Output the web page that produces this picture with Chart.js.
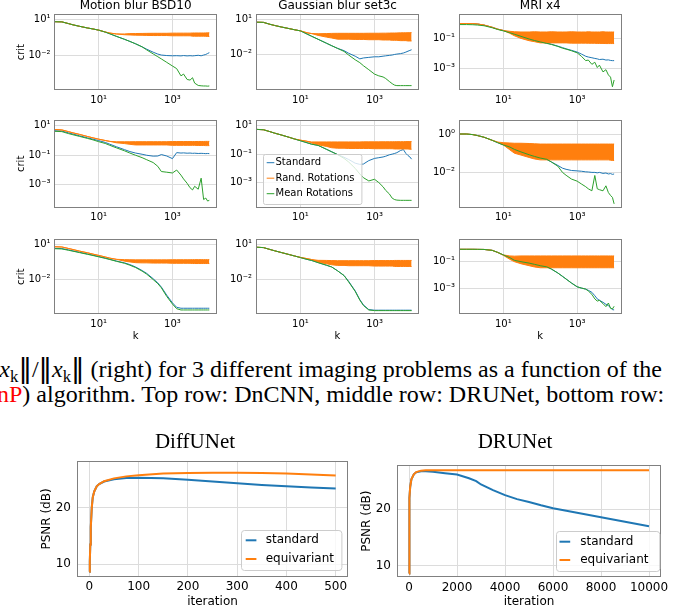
<!DOCTYPE html>
<html>
<head>
<meta charset="utf-8">
<script src="https://cdn.jsdelivr.net/npm/chart.js@4.4.1/dist/chart.umd.min.js"></script>
<style>
html, body { margin:0; padding:0; background:#fff; }
body { width:674px; height:611px; overflow:hidden; position:relative; }
canvas { position:absolute; }
.cap { position:absolute; font-family:'Liberation Serif','Times New Roman',serif; font-size:24px; line-height:24px; white-space:nowrap; color:#000; }
.cap sub { font-size:70%; line-height:0; vertical-align:baseline; position:relative; top:0.3em; }
.cap .dv { font-family:'DejaVu Sans',sans-serif; font-size:27px; line-height:0; }
</style>
</head>
<body>
<div class="cap" id="cap1" style="top:357px; right:12px;"><i>x</i><sub>k</sub><span class="dv">‖</span>/<span class="dv">‖</span><i>x</i><sub>k</sub><span class="dv">‖</span> (right) for 3 different imaging problems as a function of the</div>
<div class="cap" id="cap2" style="top:382px; left:-3px;"><span style="color:#ff0000">nP</span>) algorithm. Top row: DnCNN, middle row: DRUNet, bottom row:</div>
<script>
// ---------------- DATA ----------------
const K = [0.63, 1, 1.5, 2, 3, 5, 7, 10, 15, 20, 30, 50, 70, 100, 150, 200, 300, 400, 500, 700, 1000, 1300, 1700, 2000, 2500, 3000, 3500, 4000, 5000, 6000, 7000, 8000, 9000, 10000];

const TITLES_TOP = ['Motion blur BSD10', 'Gaussian blur set3c', 'MRI x4'];
const LEGEND_TOP = ['Standard', 'Rand. Rotations', 'Mean Rotations'];
const X_TICKS = [10, 1000];

// Row 1: DnCNN
const MB_DNCNN_STD = [6.0, 5.8, 4.2, 3.3, 2.5, 1.8, 1.5, 1.2, 0.83, 0.6, 0.37, 0.21, 0.14, 0.089, 0.05, 0.032, 0.018, 0.0126, 0.0105, 0.0095, 0.0091, 0.0093, 0.0089, 0.0095, 0.0089, 0.0093, 0.0089, 0.0093, 0.01, 0.0091, 0.0105, 0.0117, 0.014, 0.0166];
const MB_DNCNN_MEAN = [6.0, 5.8, 4.2, 3.3, 2.5, 1.8, 1.5, 1.2, 0.83, 0.6, 0.37, 0.21, 0.14, 0.089, 0.05, 0.028, 0.013, 0.0076, 0.005, 0.0026, 0.0013, 7.9e-4, 2.0e-4, 2.8e-4, 1.0e-4, 8.9e-5, 1.4e-4, 5.0e-5, 3.2e-5, 3.0e-5, 2.9e-5, 2.9e-5, 2.8e-5, 2.9e-5];
const MB_DNCNN_ROT_HI = [6.0, 5.8, 4.2, 3.3, 2.5, 1.8, 1.5, 1.2, 0.85, 0.69, 0.58, 0.58, 0.62, 0.63, 0.64, 0.65, 0.66, 0.66, 0.66, 0.66, 0.68, 0.68, 0.68, 0.68, 0.68, 0.68, 0.7, 0.7, 0.7, 0.7, 0.7, 0.71, 0.72, 0.72];
const MB_DNCNN_ROT_LO = [6.0, 5.8, 4.2, 3.3, 2.5, 1.8, 1.5, 1.2, 0.85, 0.69, 0.58, 0.5, 0.48, 0.46, 0.45, 0.44, 0.43, 0.43, 0.43, 0.43, 0.41, 0.41, 0.41, 0.41, 0.41, 0.41, 0.38, 0.38, 0.38, 0.38, 0.38, 0.37, 0.36, 0.36];
const Y_TICKS_MB_DNCNN = [10, 0.01];

const GB_DNCNN_STD = [5.6, 5.4, 3.7, 2.95, 2.2, 1.58, 1.26, 1.02, 0.55, 0.355, 0.195, 0.091, 0.055, 0.033, 0.021, 0.0126, 0.0071, 0.0042, 0.005, 0.0056, 0.0063, 0.0063, 0.0071, 0.0076, 0.0083, 0.0089, 0.01, 0.0107, 0.0117, 0.0132, 0.0158, 0.019, 0.022, 0.025];
const GB_DNCNN_MEAN = [5.6, 5.4, 3.7, 2.95, 2.2, 1.58, 1.26, 1.02, 0.55, 0.355, 0.195, 0.091, 0.055, 0.033, 0.018, 0.0089, 0.0035, 0.002, 0.0011, 5.0e-4, 2.1e-4, 1.5e-4, 1.2e-4, 8.9e-5, 5.0e-5, 3.2e-5, 2.4e-5, 2.2e-5, 2.2e-5, 2.2e-5, 2.2e-5, 2.2e-5, 2.2e-5, 2.2e-5];
const GB_DNCNN_ROT_HI = [5.6, 5.4, 3.7, 2.95, 2.2, 1.58, 1.26, 1.02, 0.7, 0.6, 0.58, 0.6, 0.62, 0.63, 0.63, 0.63, 0.63, 0.63, 0.63, 0.64, 0.64, 0.64, 0.65, 0.65, 0.66, 0.67, 0.67, 0.68, 0.69, 0.7, 0.7, 0.71, 0.72, 0.72];
const GB_DNCNN_ROT_LO = [5.6, 5.4, 3.7, 2.95, 2.2, 1.58, 1.26, 1.02, 0.7, 0.6, 0.42, 0.3, 0.25, 0.2, 0.2, 0.2, 0.19, 0.19, 0.19, 0.18, 0.18, 0.18, 0.17, 0.17, 0.17, 0.16, 0.16, 0.16, 0.15, 0.15, 0.15, 0.14, 0.14, 0.14];
const Y_TICKS_GB_DNCNN = [10, 0.01];

const MRI_DNCNN_STD = [1.0, 1.0, 0.98, 0.93, 0.79, 0.56, 0.42, 0.34, 0.25, 0.2, 0.145, 0.095, 0.076, 0.06, 0.048, 0.041, 0.03, 0.024, 0.02, 0.0158, 0.012, 0.0089, 0.0063, 0.0056, 0.005, 0.0045, 0.0042, 0.0038, 0.004, 0.0035, 0.0036, 0.0033, 0.0032, 0.0032];
const MRI_DNCNN_MEAN = [0.85, 0.85, 0.83, 0.79, 0.71, 0.52, 0.4, 0.32, 0.24, 0.19, 0.138, 0.091, 0.072, 0.058, 0.046, 0.039, 0.029, 0.022, 0.019, 0.0148, 0.0107, 0.0063, 0.0032, 0.0035, 0.0018, 0.0025, 0.0011, 0.0016, 5.6e-4, 7.9e-4, 3.5e-4, 2.5e-4, 5.6e-5, 1.6e-4];
const MRI_DNCNN_ROT_HI = [1.0, 1.0, 0.98, 0.93, 0.79, 0.56, 0.42, 0.34, 0.3, 0.28, 0.27, 0.27, 0.28, 0.27, 0.27, 0.28, 0.27, 0.27, 0.27, 0.28, 0.27, 0.27, 0.27, 0.28, 0.27, 0.27, 0.27, 0.27, 0.28, 0.27, 0.27, 0.27, 0.27, 0.27];
const MRI_DNCNN_ROT_LO = [1.0, 1.0, 0.98, 0.93, 0.79, 0.56, 0.42, 0.34, 0.22, 0.15, 0.1, 0.07, 0.06, 0.05, 0.05, 0.05, 0.05, 0.05, 0.05, 0.048, 0.048, 0.048, 0.048, 0.047, 0.047, 0.047, 0.046, 0.046, 0.046, 0.045, 0.045, 0.045, 0.045, 0.045];
const Y_TICKS_MRI_DNCNN = [0.1, 0.001];

// Row 2: DRUNet
const MB_DRUNET_STD = [4.6, 4.4, 3.3, 2.75, 2.1, 1.5, 1.23, 0.98, 0.74, 0.56, 0.38, 0.24, 0.178, 0.141, 0.117, 0.1, 0.087, 0.089, 0.112, 0.089, 0.059, 0.151, 0.141, 0.145, 0.138, 0.141, 0.135, 0.138, 0.132, 0.135, 0.132, 0.129, 0.132, 0.129];
const MB_DRUNET_MEAN = [4.2, 4.0, 2.95, 2.45, 1.9, 1.38, 1.1, 0.83, 0.63, 0.47, 0.32, 0.2, 0.141, 0.1, 0.069, 0.05, 0.032, 0.0178, 0.0079, 0.0071, 0.0063, 0.01, 0.0045, 0.0025, 0.00126, 6.3e-4, 4.5e-4, 7.9e-4, 5.0e-4, 0.0028, 1.0e-4, 1.26e-4, 7.9e-5, 8.9e-5];
const MB_DRUNET_ROT_HI = [5.6, 5.2, 4.0, 3.3, 2.6, 1.86, 1.51, 1.23, 1.0, 0.87, 0.82, 0.82, 0.82, 0.83, 0.83, 0.83, 0.83, 0.83, 0.83, 0.83, 0.85, 0.85, 0.85, 0.85, 0.85, 0.85, 0.85, 0.85, 0.86, 0.86, 0.86, 0.87, 0.87, 0.87];
const MB_DRUNET_ROT_LO = [5.6, 5.2, 4.0, 3.3, 2.6, 1.86, 1.51, 1.23, 1.0, 0.87, 0.7, 0.62, 0.55, 0.5, 0.5, 0.5, 0.5, 0.5, 0.5, 0.5, 0.47, 0.47, 0.47, 0.47, 0.47, 0.47, 0.47, 0.47, 0.46, 0.46, 0.46, 0.45, 0.45, 0.45];
const Y_TICKS_MB_DRUNET = [10, 0.1, 0.001];

const GB_DRUNET_STD = [5.5, 5.2, 3.8, 3.0, 2.24, 1.51, 1.15, 0.87, 0.63, 0.5, 0.41, 0.22, 0.145, 0.093, 0.06, 0.042, 0.023, 0.019, 0.02, 0.035, 0.05, 0.056, 0.063, 0.071, 0.089, 0.1, 0.112, 0.126, 0.178, 0.21, 0.112, 0.079, 0.063, 0.044];
const GB_DRUNET_MEAN = [5.5, 5.2, 3.8, 3.0, 2.24, 1.51, 1.15, 0.87, 0.63, 0.5, 0.41, 0.22, 0.145, 0.093, 0.05, 0.028, 0.01, 0.004, 0.0022, 0.0013, 0.0017, 0.001, 5.0e-4, 2.8e-4, 1.6e-4, 7.9e-5, 6.3e-5, 5.8e-5, 5.6e-5, 5.6e-5, 5.6e-5, 5.6e-5, 5.6e-5, 5.6e-5];
const GB_DRUNET_ROT_HI = [5.5, 5.2, 3.8, 3.0, 2.24, 1.51, 1.15, 0.95, 0.8, 0.72, 0.72, 0.72, 0.72, 0.72, 0.72, 0.72, 0.72, 0.72, 0.73, 0.73, 0.73, 0.73, 0.74, 0.74, 0.74, 0.74, 0.75, 0.75, 0.75, 0.75, 0.76, 0.76, 0.76, 0.76];
const GB_DRUNET_ROT_LO = [5.5, 5.2, 3.8, 3.0, 2.24, 1.51, 1.15, 0.95, 0.8, 0.6, 0.45, 0.35, 0.28, 0.26, 0.26, 0.25, 0.25, 0.25, 0.25, 0.25, 0.24, 0.24, 0.24, 0.24, 0.24, 0.24, 0.23, 0.23, 0.23, 0.23, 0.23, 0.23, 0.22, 0.22];
const Y_TICKS_GB_DRUNET = [10, 0.1, 0.001];

const MRI_DRUNET_STD = [1.0, 1.0, 0.93, 0.83, 0.68, 0.47, 0.355, 0.27, 0.21, 0.158, 0.117, 0.083, 0.068, 0.056, 0.048, 0.035, 0.023, 0.0166, 0.0145, 0.0126, 0.012, 0.0115, 0.0107, 0.0105, 0.01, 0.01, 0.0095, 0.01, 0.0089, 0.0093, 0.0083, 0.0087, 0.0079, 0.0083];
const MRI_DRUNET_MEAN = [1.0, 1.0, 0.93, 0.83, 0.68, 0.47, 0.355, 0.27, 0.21, 0.158, 0.117, 0.083, 0.068, 0.056, 0.048, 0.035, 0.021, 0.01, 0.0071, 0.0045, 0.0035, 0.0025, 0.0018, 0.0014, 0.0011, 0.0069, 0.0014, 0.00126, 0.0011, 0.002, 8.9e-4, 6.3e-4, 5.0e-4, 2.3e-4];
const MRI_DRUNET_ROT_HI = [1.0, 1.0, 0.93, 0.83, 0.68, 0.47, 0.38, 0.355, 0.34, 0.33, 0.33, 0.32, 0.31, 0.3, 0.3, 0.3, 0.3, 0.3, 0.3, 0.3, 0.3, 0.3, 0.3, 0.3, 0.3, 0.3, 0.3, 0.3, 0.3, 0.3, 0.3, 0.3, 0.3, 0.3];
const MRI_DRUNET_ROT_LO = [1.0, 1.0, 0.93, 0.83, 0.68, 0.47, 0.38, 0.27, 0.15, 0.1, 0.08, 0.06, 0.05, 0.045, 0.045, 0.045, 0.045, 0.045, 0.045, 0.045, 0.045, 0.045, 0.045, 0.045, 0.045, 0.045, 0.045, 0.045, 0.045, 0.045, 0.045, 0.043, 0.042, 0.042];
const Y_TICKS_MRI_DRUNET = [1, 0.01];

// Row 3: DiffUNet
const MB_DIFFUNET_STD = [4.3, 4.1, 3.2, 2.6, 2.0, 1.41, 1.12, 0.87, 0.65, 0.51, 0.36, 0.25, 0.178, 0.112, 0.056, 0.032, 0.0112, 0.005, 0.0022, 4.5e-4, 1.0e-4, 4.2e-5, 3.5e-5, 3.5e-5, 3.5e-5, 3.5e-5, 3.5e-5, 3.5e-5, 3.5e-5, 3.5e-5, 3.5e-5, 3.5e-5, 3.5e-5, 3.5e-5];
const MB_DIFFUNET_MEAN = [4.0, 3.8, 2.95, 2.45, 1.86, 1.32, 1.05, 0.81, 0.6, 0.48, 0.34, 0.23, 0.158, 0.1, 0.05, 0.0275, 0.0095, 0.0043, 0.0019, 3.5e-4, 7.9e-5, 3.2e-5, 2.5e-5, 2.5e-5, 2.5e-5, 2.5e-5, 2.5e-5, 2.5e-5, 2.5e-5, 2.5e-5, 2.5e-5, 2.5e-5, 2.5e-5, 2.5e-5];
const MB_DIFFUNET_ROT_HI = [5.9, 5.6, 4.2, 3.4, 2.5, 1.78, 1.38, 1.07, 0.79, 0.63, 0.5, 0.47, 0.46, 0.45, 0.45, 0.45, 0.45, 0.45, 0.45, 0.45, 0.46, 0.46, 0.46, 0.46, 0.46, 0.46, 0.47, 0.47, 0.47, 0.47, 0.47, 0.47, 0.47, 0.47];
const MB_DIFFUNET_ROT_LO = [5.9, 5.6, 4.2, 3.4, 2.5, 1.78, 1.38, 1.07, 0.79, 0.63, 0.5, 0.35, 0.3, 0.26, 0.25, 0.25, 0.24, 0.24, 0.24, 0.24, 0.23, 0.23, 0.23, 0.23, 0.23, 0.23, 0.22, 0.22, 0.22, 0.22, 0.22, 0.22, 0.22, 0.22];
const Y_TICKS_MB_DIFFUNET = [10, 0.01];

const GB_DIFFUNET_STD = [5.6, 5.2, 3.6, 2.8, 2.0, 1.32, 1.0, 0.74, 0.52, 0.42, 0.275, 0.166, 0.117, 0.056, 0.022, 0.0071, 0.0011, 2.0e-4, 7.1e-5, 2.8e-5, 2.5e-5, 2.5e-5, 2.5e-5, 2.5e-5, 2.5e-5, 2.5e-5, 2.5e-5, 2.5e-5, 2.5e-5, 2.5e-5, 2.5e-5, 2.5e-5, 2.5e-5, 2.5e-5];
const GB_DIFFUNET_MEAN = [5.6, 5.2, 3.6, 2.8, 2.0, 1.32, 1.0, 0.74, 0.52, 0.42, 0.275, 0.166, 0.117, 0.056, 0.022, 0.0063, 0.001, 1.8e-4, 6.3e-5, 2.6e-5, 2.3e-5, 2.3e-5, 2.3e-5, 2.3e-5, 2.3e-5, 2.3e-5, 2.3e-5, 2.3e-5, 2.3e-5, 2.3e-5, 2.3e-5, 2.3e-5, 2.3e-5, 2.3e-5];
const GB_DIFFUNET_ROT_HI = [5.6, 5.2, 3.6, 2.8, 2.0, 1.32, 1.0, 0.76, 0.6, 0.5, 0.43, 0.42, 0.41, 0.4, 0.4, 0.4, 0.4, 0.4, 0.4, 0.4, 0.41, 0.41, 0.41, 0.41, 0.41, 0.41, 0.42, 0.42, 0.42, 0.42, 0.42, 0.42, 0.42, 0.42];
const GB_DIFFUNET_ROT_LO = [5.6, 5.2, 3.6, 2.8, 2.0, 1.32, 1.0, 0.76, 0.6, 0.5, 0.3, 0.22, 0.18, 0.16, 0.16, 0.15, 0.15, 0.15, 0.15, 0.15, 0.14, 0.14, 0.14, 0.14, 0.14, 0.14, 0.13, 0.13, 0.13, 0.13, 0.13, 0.13, 0.13, 0.13];
const Y_TICKS_GB_DIFFUNET = [10, 0.01];

const MRI_DIFFUNET_STD = [0.85, 0.85, 0.85, 0.84, 0.83, 0.71, 0.5, 0.32, 0.2, 0.126, 0.1, 0.078, 0.063, 0.05, 0.041, 0.028, 0.0141, 0.0079, 0.005, 0.0025, 0.0013, 0.00105, 8.7e-4, 7.1e-4, 5.0e-4, 2.8e-4, 1.6e-4, 1.26e-4, 8.9e-5, 6.3e-5, 5.0e-5, 3.5e-5, 2.5e-5, 2.4e-5];
const MRI_DIFFUNET_MEAN = [0.85, 0.85, 0.85, 0.84, 0.83, 0.71, 0.5, 0.32, 0.2, 0.126, 0.1, 0.078, 0.063, 0.05, 0.041, 0.028, 0.0141, 0.0079, 0.005, 0.0025, 0.0013, 0.00105, 8.7e-4, 6.3e-4, 3.5e-4, 1.6e-4, 1.1e-4, 1.26e-4, 7.1e-5, 4.2e-5, 7.9e-5, 3.2e-5, 2.8e-5, 4.5e-5];
const MRI_DIFFUNET_ROT_HI = [0.85, 0.85, 0.85, 0.84, 0.83, 0.71, 0.5, 0.32, 0.27, 0.26, 0.27, 0.27, 0.27, 0.27, 0.27, 0.27, 0.27, 0.27, 0.27, 0.27, 0.27, 0.27, 0.27, 0.27, 0.27, 0.27, 0.27, 0.27, 0.27, 0.27, 0.27, 0.27, 0.27, 0.27];
const MRI_DIFFUNET_ROT_LO = [0.85, 0.85, 0.85, 0.84, 0.83, 0.71, 0.5, 0.3, 0.15, 0.1, 0.07, 0.05, 0.04, 0.035, 0.035, 0.035, 0.035, 0.035, 0.035, 0.035, 0.035, 0.035, 0.035, 0.035, 0.035, 0.035, 0.035, 0.035, 0.035, 0.035, 0.035, 0.035, 0.035, 0.035];
const Y_TICKS_MRI_DIFFUNET = [0.1, 0.001];

// Bottom charts
const TITLES_BOTTOM = ['DiffUNet', 'DRUNet'];
const LEGEND_BOTTOM = ['standard', 'equivariant'];
const DIFF_IT = [0, 1, 2, 3, 5, 7, 10, 15, 20, 30, 50, 75, 100, 150, 200, 250, 300, 350, 400, 450, 500];
const DIFF_STD = [8.7, 10.5, 13.5, 16.5, 20.0, 21.8, 22.8, 23.7, 24.1, 24.55, 24.95, 25.15, 25.2, 25.1, 24.85, 24.55, 24.25, 23.95, 23.7, 23.5, 23.3];
const DIFF_EQ = [8.7, 10.5, 13.5, 16.5, 20.0, 21.8, 22.8, 23.7, 24.1, 24.6, 25.1, 25.45, 25.65, 25.95, 26.05, 26.1, 26.1, 26.05, 25.95, 25.8, 25.6];
const DIFF_X_TICKS = [0, 100, 200, 300, 400, 500];
const DRU_IT = [0, 10, 25, 50, 100, 200, 300, 500, 700, 1000, 1500, 2000, 2200, 2500, 2800, 3000, 3500, 4000, 4500, 5000, 5500, 6000, 7000, 8000, 9000, 10000];
const DRU_STD = [8.6, 18.0, 22.0, 24.0, 25.3, 26.2, 26.55, 26.75, 26.75, 26.65, 26.4, 26.15, 25.9, 25.5, 25.0, 24.4, 23.4, 22.5, 21.8, 21.3, 20.7, 20.2, 19.4, 18.6, 17.8, 17.0];
const DRU_EQ = [8.6, 18.0, 22.0, 24.0, 25.3, 26.2, 26.6, 26.85, 26.9, 26.9, 26.9, 26.9, 26.9, 26.9, 26.9, 26.9, 26.9, 26.9, 26.9, 26.9, 26.9, 26.9, 26.9, 26.9, 26.9, 26.9];
const DRU_X_TICKS = [0, 2000, 4000, 6000, 8000, 10000];
const PSNR_TICKS = [10, 20];

// ---------------- STYLE / LAYOUT ----------------
Chart.defaults.font.family = "'DejaVu Sans', sans-serif";
Chart.defaults.color = '#000';
const COL = { blue: '#1f77b4', orange: '#ff7f0e', green: '#2ca02c' };
const GRID = '#dcdcdc';
const SPINE = '#808080';
const X_MIN = 0.631, X_MAX = 15849;

const SUP = { '-': '\u207B', '0': '\u2070', '1': '\u00B9', '2': '\u00B2', '3': '\u00B3', '4': '\u2074', '5': '\u2075' };
function powLabel(v) {
  const e = Math.round(Math.log10(v));
  return '10' + String(e).split('').map(ch => SUP[ch]).join('');
}

const framePlugin = {
  id: 'frame',
  afterDatasetsDraw(chart) {
    const a = chart.chartArea, ctx = chart.ctx;
    ctx.save();
    ctx.strokeStyle = SPINE; ctx.lineWidth = 1;
    const l = Math.floor(a.left) + 0.5, t = Math.floor(a.top) + 0.5;
    const r = Math.round(a.right) - 0.5, b = Math.round(a.bottom) - 0.5;
    ctx.strokeRect(l, t, r - l, b - t);
    ctx.restore();
  }
};

const boxLegendPlugin = {
  id: 'boxLegend',
  afterDatasetsDraw(chart) {
    const L = chart.canvas._legend;
    if (!L) return;
    const a = chart.chartArea, ctx = chart.ctx;
    const x0 = (L.right != null) ? a.right - L.right - L.w : a.left + L.left;
    const y0 = a.bottom - L.bottom - L.h;
    ctx.save();
    ctx.beginPath();
    if (ctx.roundRect) ctx.roundRect(Math.round(x0) + 0.5, Math.round(y0) + 0.5, L.w, L.h, L.r);
    else ctx.rect(Math.round(x0) + 0.5, Math.round(y0) + 0.5, L.w, L.h);
    ctx.fillStyle = 'rgba(255,255,255,0.8)';
    ctx.fill();
    ctx.strokeStyle = '#cccccc'; ctx.lineWidth = 1;
    ctx.stroke();
    ctx.font = L.size + "px 'DejaVu Sans'";
    ctx.textBaseline = 'middle'; ctx.textAlign = 'left';
    L.items.forEach((it, i) => {
      const y = y0 + L.y1 + i * L.dy;
      ctx.beginPath();
      ctx.strokeStyle = it.color; ctx.lineWidth = L.lw;
      ctx.moveTo(x0 + L.hx, y); ctx.lineTo(x0 + L.hx + L.hl, y);
      ctx.stroke();
      ctx.fillStyle = '#000';
      ctx.fillText(it.label, x0 + L.tx, y);
    });
    ctx.restore();
  }
};

function makeCanvas(left, top, w, h) {
  const c = document.createElement('canvas');
  c.width = w; c.height = h;
  c.style.left = left + 'px'; c.style.top = top + 'px';
  c.style.width = w + 'px'; c.style.height = h + 'px';
  document.body.appendChild(c);
  return c;
}

const COLS = [
  { cl: 0, cw: 226, pl: 54.5, pr: 216.7 },
  { cl: 222, cw: 206, pl: 256, pr: 419 },
  { cl: 425, cw: 210, pl: 459, pr: 621.5 }
];
const ROWS = [
  { ct: 0, ch: 108, pt: 14.3, pb: 90 },
  { ct: 108, ch: 118, pt: 120, pb: 207.7 },
  { ct: 227, ch: 118, pt: 239.3, pb: 314.3 }
];

const TOP_ITEMS = [
  { label: LEGEND_TOP[0], color: COL.blue },
  { label: LEGEND_TOP[1], color: COL.orange },
  { label: LEGEND_TOP[2], color: COL.green }
];

const PANELS = [
  { r: 0, c: 0, std: MB_DNCNN_STD, hi: MB_DNCNN_ROT_HI, lo: MB_DNCNN_ROT_LO, mean: MB_DNCNN_MEAN, yTicks: Y_TICKS_MB_DNCNN, yMin: 1.35e-5, yMax: 24.5 },
  { r: 0, c: 1, std: GB_DNCNN_STD, hi: GB_DNCNN_ROT_HI, lo: GB_DNCNN_ROT_LO, mean: GB_DNCNN_MEAN, yTicks: Y_TICKS_GB_DNCNN, yMin: 9.3e-6, yMax: 26.3 },
  { r: 0, c: 2, std: MRI_DNCNN_STD, hi: MRI_DNCNN_ROT_HI, lo: MRI_DNCNN_ROT_LO, mean: MRI_DNCNN_MEAN, yTicks: Y_TICKS_MRI_DNCNN, yMin: 3.4e-5, yMax: 4.17 },
  { r: 1, c: 0, std: MB_DRUNET_STD, hi: MB_DRUNET_ROT_HI, lo: MB_DRUNET_ROT_LO, mean: MB_DRUNET_MEAN, yTicks: Y_TICKS_MB_DRUNET, yMin: 2.8e-5, yMax: 24.5 },
  { r: 1, c: 1, std: GB_DRUNET_STD, hi: GB_DRUNET_ROT_HI, lo: GB_DRUNET_ROT_LO, mean: GB_DRUNET_MEAN, yTicks: Y_TICKS_GB_DRUNET, yMin: 1.7e-5, yMax: 25.1,
    legend: { left: 7.3, bottom: 3.4, w: 98.4, h: 50, r: 2, y1: 8.4, dy: 15.5, hx: 3.4, hl: 7.6, tx: 12.2, size: 10, lw: 1, items: TOP_ITEMS } },
  { r: 1, c: 2, std: MRI_DRUNET_STD, hi: MRI_DRUNET_ROT_HI, lo: MRI_DRUNET_ROT_LO, mean: MRI_DRUNET_MEAN, yTicks: Y_TICKS_MRI_DRUNET, yMin: 1.45e-4, yMax: 5.37 },
  { r: 2, c: 0, std: MB_DIFFUNET_STD, hi: MB_DIFFUNET_ROT_HI, lo: MB_DIFFUNET_ROT_LO, mean: MB_DIFFUNET_MEAN, yTicks: Y_TICKS_MB_DIFFUNET, yMin: 1.07e-5, yMax: 25.1 },
  { r: 2, c: 1, std: GB_DIFFUNET_STD, hi: GB_DIFFUNET_ROT_HI, lo: GB_DIFFUNET_ROT_LO, mean: GB_DIFFUNET_MEAN, yTicks: Y_TICKS_GB_DIFFUNET, yMin: 1.12e-5, yMax: 26.3 },
  { r: 2, c: 2, std: MRI_DIFFUNET_STD, hi: MRI_DIFFUNET_ROT_HI, lo: MRI_DIFFUNET_ROT_LO, mean: MRI_DIFFUNET_MEAN, yTicks: Y_TICKS_MRI_DIFFUNET, yMin: 1.12e-5, yMax: 4.79 }
];

function logPanel(P) {
  const col = COLS[P.c], row = ROWS[P.r];
  const cv = makeCanvas(col.cl, row.ct, col.cw, row.ch);
  if (P.legend) cv._legend = P.legend;
  const hasTitle = P.r === 0;
  new Chart(cv, {
    type: 'line',
    data: {
      labels: K,
      datasets: [
        { label: LEGEND_TOP[0], data: P.std, borderColor: COL.blue, backgroundColor: COL.blue, borderWidth: 1, pointRadius: 0, fill: false, order: 3 },
        { label: LEGEND_TOP[1], data: P.hi, borderColor: COL.orange, backgroundColor: COL.orange, borderWidth: 1, pointRadius: 0, fill: '+1', order: 2 },
        { label: LEGEND_TOP[1] + ' (low)', data: P.lo, borderColor: COL.orange, backgroundColor: COL.orange, borderWidth: 1, pointRadius: 0, fill: false, order: 2 },
        { label: LEGEND_TOP[2], data: P.mean, borderColor: COL.green, backgroundColor: COL.green, borderWidth: 1, pointRadius: 0, fill: false, order: 1 }
      ]
    },
    options: {
      responsive: false, maintainAspectRatio: false, animation: false, devicePixelRatio: 1, events: [],
      layout: { padding: { left: 0, right: col.cl + col.cw - col.pr, top: hasTitle ? 0 : row.pt - row.ct, bottom: 0 } },
      plugins: {
        legend: { display: false }, tooltip: { enabled: false },
        title: { display: hasTitle, text: hasTitle ? TITLES_TOP[P.c] : '', fullSize: false, color: '#000',
          font: { size: 12, weight: 'normal', lineHeight: 1 }, padding: { top: 0, bottom: row.pt - row.ct - 12 } }
      },
      scales: {
        x: {
          type: 'logarithmic', min: X_MIN, max: X_MAX, bounds: 'data',
          afterBuildTicks: s => { s.ticks = X_TICKS.map(v => ({ value: v })); },
          afterFit: s => { s.height = row.ct + row.ch - row.pb; },
          ticks: { callback: v => powLabel(v), font: { size: 10 }, color: '#000', padding: 4, maxRotation: 0, autoSkip: false },
          grid: { color: GRID, lineWidth: 1, drawTicks: false },
          border: { display: false },
          title: { display: P.r === 2, text: 'k', color: '#000', font: { size: 10 }, padding: { top: 0, bottom: 3 } }
        },
        y: {
          type: 'logarithmic', min: P.yMin, max: P.yMax, bounds: 'data',
          afterBuildTicks: s => { s.ticks = P.yTicks.map(v => ({ value: v })); },
          afterFit: s => { s.width = col.pl - col.cl; },
          ticks: { callback: v => powLabel(v), font: { size: 10 }, color: '#000', padding: 4, autoSkip: false },
          grid: { color: GRID, lineWidth: 1, drawTicks: false },
          border: { display: false },
          title: { display: P.c === 0, text: 'crit', color: '#000', font: { size: 10 }, padding: { top: 15, bottom: 0 } }
        }
      }
    },
    plugins: [framePlugin, boxLegendPlugin]
  });
}

function linPanel(P) {
  const cv = makeCanvas(P.cl, P.ct, P.cw, P.ch);
  cv._legend = P.legend;
  new Chart(cv, {
    type: 'line',
    data: {
      labels: P.it,
      datasets: [
        { label: LEGEND_BOTTOM[0], data: P.std, borderColor: COL.blue, backgroundColor: COL.blue, borderWidth: 2, pointRadius: 0, fill: false, order: 1 },
        { label: LEGEND_BOTTOM[1], data: P.eq, borderColor: COL.orange, backgroundColor: COL.orange, borderWidth: 2, pointRadius: 0, fill: false, order: 0 }
      ]
    },
    options: {
      responsive: false, maintainAspectRatio: false, animation: false, devicePixelRatio: 1, events: [],
      layout: { padding: { left: P.padL, right: P.cl + P.cw - P.pr, top: 0, bottom: 0 } },
      plugins: {
        legend: { display: false }, tooltip: { enabled: false },
        title: { display: true, text: P.title, color: '#000',
          font: { family: "'Liberation Serif','Times New Roman',serif", size: 21, weight: 'normal', lineHeight: 1.2 },
          padding: { top: 4.9, bottom: P.pt - P.ct - 4.9 - 25.2 } }
      },
      scales: {
        x: {
          type: 'linear', min: P.xMin, max: P.xMax, bounds: 'data',
          afterBuildTicks: s => { s.ticks = P.xTicks.map(v => ({ value: v })); },
          afterFit: s => { s.height = P.ct + P.ch - P.pb; },
          ticks: { callback: v => String(v), font: { size: 12 }, color: '#000', padding: 3, maxRotation: 0, autoSkip: false },
          grid: { color: GRID, lineWidth: 1, drawTicks: false },
          border: { display: false },
          title: { display: true, text: 'iteration', color: '#000', font: { size: 12 }, padding: { top: 0, bottom: 2.3 } }
        },
        y: {
          type: 'linear', min: P.yMin, max: P.yMax, bounds: 'data',
          afterBuildTicks: s => { s.ticks = PSNR_TICKS.map(v => ({ value: v })); },
          afterFit: s => { s.width = P.pl - P.cl - P.padL; },
          ticks: { callback: v => String(v), font: { size: 12 }, color: '#000', padding: 6, autoSkip: false },
          grid: { color: GRID, lineWidth: 1, drawTicks: false },
          border: { display: false },
          title: { display: true, text: 'PSNR (dB)', color: '#000', font: { size: 12 }, padding: { top: P.yTitlePad, bottom: 0 } }
        }
      }
    },
    plugins: [framePlugin, boxLegendPlugin]
  });
}

PANELS.forEach(logPanel);

const BOTTOM_ITEMS = [
  { label: LEGEND_BOTTOM[0], color: COL.blue },
  { label: LEGEND_BOTTOM[1], color: COL.orange }
];

linPanel({ title: TITLES_BOTTOM[0], it: DIFF_IT, std: DIFF_STD, eq: DIFF_EQ, xTicks: DIFF_X_TICKS,
  xMin: -25, xMax: 525, yMin: 7.77, yMax: 28.15,
  cl: 38, ct: 425, cw: 314, ch: 186, padL: 4, pl: 77, pr: 348, pt: 461, pb: 577, yTitlePad: -2.5,
  legend: { right: 6.6, bottom: 7, w: 100.4, h: 40, r: 3, y1: 10.3, dy: 18.7, hx: 4.7, hl: 10.7, tx: 24.7, size: 12, lw: 2, items: BOTTOM_ITEMS } });

linPanel({ title: TITLES_BOTTOM[1], it: DRU_IT, std: DRU_STD, eq: DRU_EQ, xTicks: DRU_X_TICKS,
  xMin: -500, xMax: 10500, yMin: 7.94, yMax: 27.85,
  cl: 358, ct: 425, cw: 314, ch: 186, padL: 11, pl: 397, pr: 661, pt: 465, pb: 577.3, yTitlePad: -9.5,
  legend: { right: 1.5, bottom: 6.3, w: 103.3, h: 40, r: 3, y1: 10.7, dy: 18.3, hx: 3.3, hl: 10.7, tx: 24, size: 12, lw: 2, items: BOTTOM_ITEMS } });
</script>
</body>
</html>
